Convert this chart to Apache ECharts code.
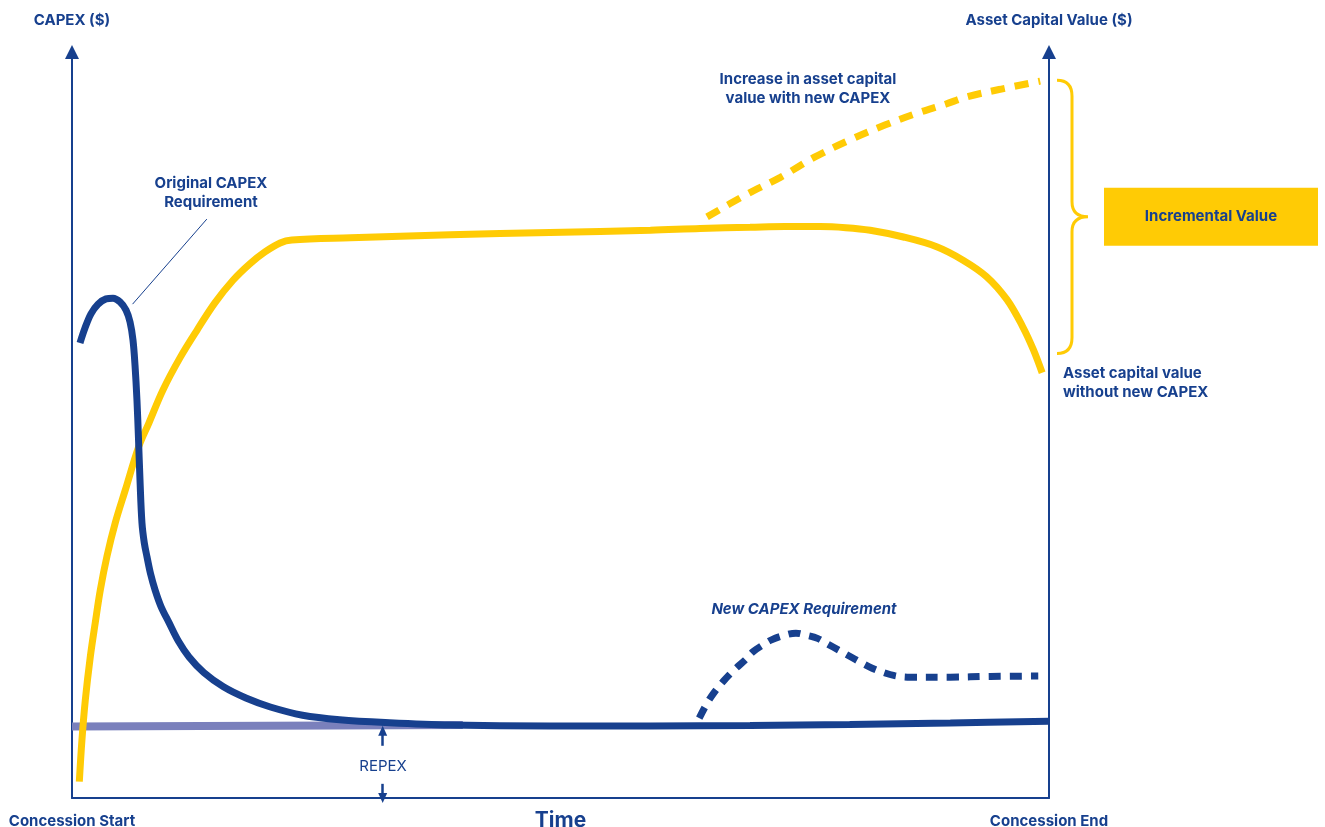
<!DOCTYPE html>
<html>
<head>
<meta charset="utf-8">
<script src="https://cdn.jsdelivr.net/npm/echarts@6/dist/echarts.min.js"></script>
<style>
html,body{margin:0;padding:0;background:#fff;}
#chart{width:1325px;height:827px;}
</style>
</head>
<body>
<div id="chart"></div>
<script>
// ---- data (time 0..100 = concession start..end, value 0..100) ----
const xTickLabels = {0: 'Concession Start', 100: 'Concession End'};

const originalCapex = [
  [0.82,61.0],[1.33,63.0],[1.94,64.9],[2.66,66.2],[3.48,66.9],[4.2,67.0],[4.91,66.5],[5.53,65.4],
  [5.94,63.8],[6.24,61.4],[6.45,58.0],[6.65,53.3],[6.81,48.0],[6.96,42.6],[7.16,36.9],[7.4,34.2],
  [7.68,32.3],[8.05,30.0],[8.5,27.9],[9.1,25.7],[9.93,23.5],[10.9,21.0],[11.98,18.9],[13.5,16.8],
  [15.5,14.9],[17.8,13.4],[20.3,12.2],[23.6,11.1],[27.4,10.5],[32.5,10.1],[38.7,9.79],[48.9,9.65],
  [59.2,9.65],[69.4,9.72],[79.6,9.85],[89.9,10.05],[100,10.3]
];
const repexBaseline = [[0,9.6],[40,9.8]];

const assetValue = [
  [0.75,2.2],[1.02,7.8],[1.36,13.1],[1.87,18.9],[2.38,23.5],[2.90,27.9],[3.58,32.4],[4.43,36.9],
  [5.46,41.3],[6.83,47.1],[7.88,50.3],[9.31,54.7],[11.05,59.0],[12.79,62.7],[14.64,66.4],[16.48,69.4],
  [18.2,71.6],[19.75,73.2],[21.3,74.4],[22.5,74.8],[28.5,75.1],[38.7,75.5],[48.9,75.8],[59.2,76.1],
  [64.3,76.35],[69.4,76.5],[73.0,76.6],[76.56,76.6],[79.2,76.45],[81.7,76.1],[85.1,75.2],[88.5,73.9],
  [91.2,72.1],[93.6,69.9],[95.7,66.8],[97.3,63.2],[98.4,60.1],[99.3,57.0]
];
const assetValueNewCapex = [
  [65.0,77.9],[68.9,80.8],[72.5,83.2],[76.0,85.9],[79.6,88.2],[83.2,90.2],[86.5,91.8],[89.4,93.0],
  [91.6,94.0],[95.0,95.0],[99.1,96.1]
];
const newCapex = [
  [64.2,10.7],[65.0,12.7],[65.7,14.1],[66.7,15.7],[67.8,17.2],[68.9,18.5],[69.7,19.6],[70.7,20.5],
  [71.6,21.2],[72.9,21.8],[74.1,22.1],[75.2,21.8],[76.3,21.4],[77.4,20.6],[78.5,19.8],[79.6,19.0],
  [80.7,18.2],[81.9,17.4],[83.1,16.8],[84.2,16.4],[85.5,16.2],[89.9,16.2],[94.0,16.3],[98.9,16.35]
];
const leaderLine = [[6.2,66.2],[13.8,77.6]];
const repexMarker = {x: 31.8, base: 0, level: 9.0, gapLow: 1.9, gapHigh: 7.0};
const incrementalRange = [59.6, 96.2];

// ---- styles ----
const BLUE = '#17408e';
const YELLOW = '#ffcb05';
const PURPLE = '#7a80bc';
const FONT = 'Inter, "Noto Sans", sans-serif';

const chart = echarts.init(document.getElementById('chart'));

const yAxisBase = {
  type: 'value', min: 0, max: 100,
  axisLine: {show: true, lineStyle: {color: BLUE, width: 2}, symbol: ['none', 'triangle'],
    symbolSize: [14, 14], symbolOffset: [0, 0]},
  axisTick: {show: false}, axisLabel: {show: false}, splitLine: {show: false},
  nameLocation: 'end', nameGap: 24, nameMoveOverlap: false,
  nameTextStyle: {color: BLUE, fontFamily: FONT, fontWeight: 'bold', fontSize: 15, align: 'center'}
};

chart.setOption({
  animation: false,
  backgroundColor: '#ffffff',
  grid: {left: 72, right: 276, top: 52, bottom: 29, containLabel: false, outerBoundsMode: 'none'},
  xAxis: {
    type: 'value', min: 0, max: 100, interval: 100,
    axisLine: {show: true, lineStyle: {color: BLUE, width: 2}},
    axisTick: {show: false}, splitLine: {show: false},
    axisLabel: {
      show: true, margin: 16, color: BLUE, fontFamily: FONT, fontWeight: 'bold', fontSize: 15,
      formatter: v => xTickLabels[v] || ''
    },
    name: 'Time', nameLocation: 'middle', nameGap: 12, nameMoveOverlap: false,
    nameTextStyle: {color: BLUE, fontFamily: FONT, fontWeight: 'bold', fontSize: 21}
  },
  yAxis: [
    Object.assign({}, yAxisBase, {position: 'left', name: 'CAPEX ($)'}),
    Object.assign({}, yAxisBase, {position: 'right', name: 'Asset Capital Value ($)'})
  ],
  series: [
    {
      type: 'line', name: 'REPEX baseline', data: repexBaseline, yAxisIndex: 0, z: 2,
      showSymbol: false, symbol: 'none', lineStyle: {color: PURPLE, width: 8},
      markLine: {
        silent: true, animation: false,
        label: {show: false},
        lineStyle: {color: BLUE, width: 2.5, type: 'solid'},
        symbol: ['none', 'triangle'], symbolSize: [9, 10],
        data: [
          [{coord: [repexMarker.x, repexMarker.gapHigh]}, {coord: [repexMarker.x, repexMarker.level]}],
          [{coord: [repexMarker.x, repexMarker.gapLow]}, {coord: [repexMarker.x, repexMarker.base]}]
        ]
      }
    },
    {
      type: 'line', name: 'Original CAPEX Requirement', data: originalCapex, yAxisIndex: 0, z: 4,
      smooth: 0.35, showSymbol: false, symbol: 'none', lineStyle: {color: BLUE, width: 7},
      markLine: {
        silent: true, animation: false, symbol: ['none', 'none'],
        label: {show: false},
        lineStyle: {color: BLUE, width: 1, type: 'solid'},
        data: [[{coord: leaderLine[0]}, {coord: leaderLine[1]}]]
      }
    },
    {
      type: 'line', name: 'New CAPEX Requirement', data: newCapex, yAxisIndex: 0, z: 4,
      smooth: 0.35, showSymbol: false, symbol: 'none',
      lineStyle: {color: BLUE, width: 7, type: [12, 9], cap: 'butt'}
    },
    {
      type: 'line', name: 'Asset capital value', data: assetValue, yAxisIndex: 1, z: 3,
      smooth: 0.35, showSymbol: false, symbol: 'none', lineStyle: {color: YELLOW, width: 7}
    },
    {
      type: 'line', name: 'Asset capital value with new CAPEX', data: assetValueNewCapex, yAxisIndex: 1, z: 3,
      smooth: 0.35, showSymbol: false, symbol: 'none',
      lineStyle: {color: YELLOW, width: 7, type: [14, 10], cap: 'butt'}
    },
    {
      type: 'custom', name: 'Incremental Value', yAxisIndex: 1, clip: false, z: 5, silent: true,
      data: [[100, incrementalRange[0], incrementalRange[1]]],
      renderItem: function (params, api) {
        const pb = api.coord([api.value(0), api.value(1)]);
        const pt = api.coord([api.value(0), api.value(2)]);
        const x0 = pb[0] + 8, x1 = x0 + 15, xt = x1 + 16;
        const top = pt[1], bot = pb[1], mid = (top + bot) / 2;
        const path = 'M' + x0 + ',' + top +
          ' Q' + x1 + ',' + top + ' ' + x1 + ',' + (top + 16) +
          ' L' + x1 + ',' + (mid - 15) +
          ' Q' + x1 + ',' + mid + ' ' + xt + ',' + mid +
          ' Q' + x1 + ',' + mid + ' ' + x1 + ',' + (mid + 15) +
          ' L' + x1 + ',' + (bot - 16) +
          ' Q' + x1 + ',' + bot + ' ' + x0 + ',' + bot;
        const bx = xt + 16, bw = 214, bh = 58;
        return {
          type: 'group',
          children: [
            {type: 'path', shape: {pathData: path}, style: {fill: 'none', stroke: YELLOW, lineWidth: 3}},
            {type: 'rect', shape: {x: bx, y: mid - bh / 2, width: bw, height: bh}, style: {fill: YELLOW}},
            {type: 'text', x: bx + bw / 2, y: mid, style: {
              text: 'Incremental Value', fill: BLUE, font: 'bold 15px ' + FONT,
              align: 'center', verticalAlign: 'middle'}}
          ]
        };
      }
    }
  ],
  graphic: [
    {type: 'text', x: 211, y: 193, style: {text: 'Original CAPEX\nRequirement', fill: BLUE,
      font: 'bold 15px ' + FONT, lineHeight: 19, align: 'center', verticalAlign: 'middle'}},
    {type: 'text', x: 808, y: 89, style: {text: 'Increase in asset capital\nvalue with new CAPEX', fill: BLUE,
      font: 'bold 15px ' + FONT, lineHeight: 19, align: 'center', verticalAlign: 'middle'}},
    {type: 'text', x: 1063, y: 383, style: {text: 'Asset capital value\nwithout new CAPEX', fill: BLUE,
      font: 'bold 15px ' + FONT, lineHeight: 19, align: 'left', verticalAlign: 'middle'}},
    {type: 'text', x: 804, y: 609, style: {text: 'New CAPEX Requirement', fill: BLUE,
      font: 'italic bold 15px ' + FONT, align: 'center', verticalAlign: 'middle'}},
    {type: 'text', x: 383, y: 766, style: {text: 'REPEX', fill: BLUE,
      font: '15px ' + FONT, align: 'center', verticalAlign: 'middle'}}
  ]
});
</script>
</body>
</html>
